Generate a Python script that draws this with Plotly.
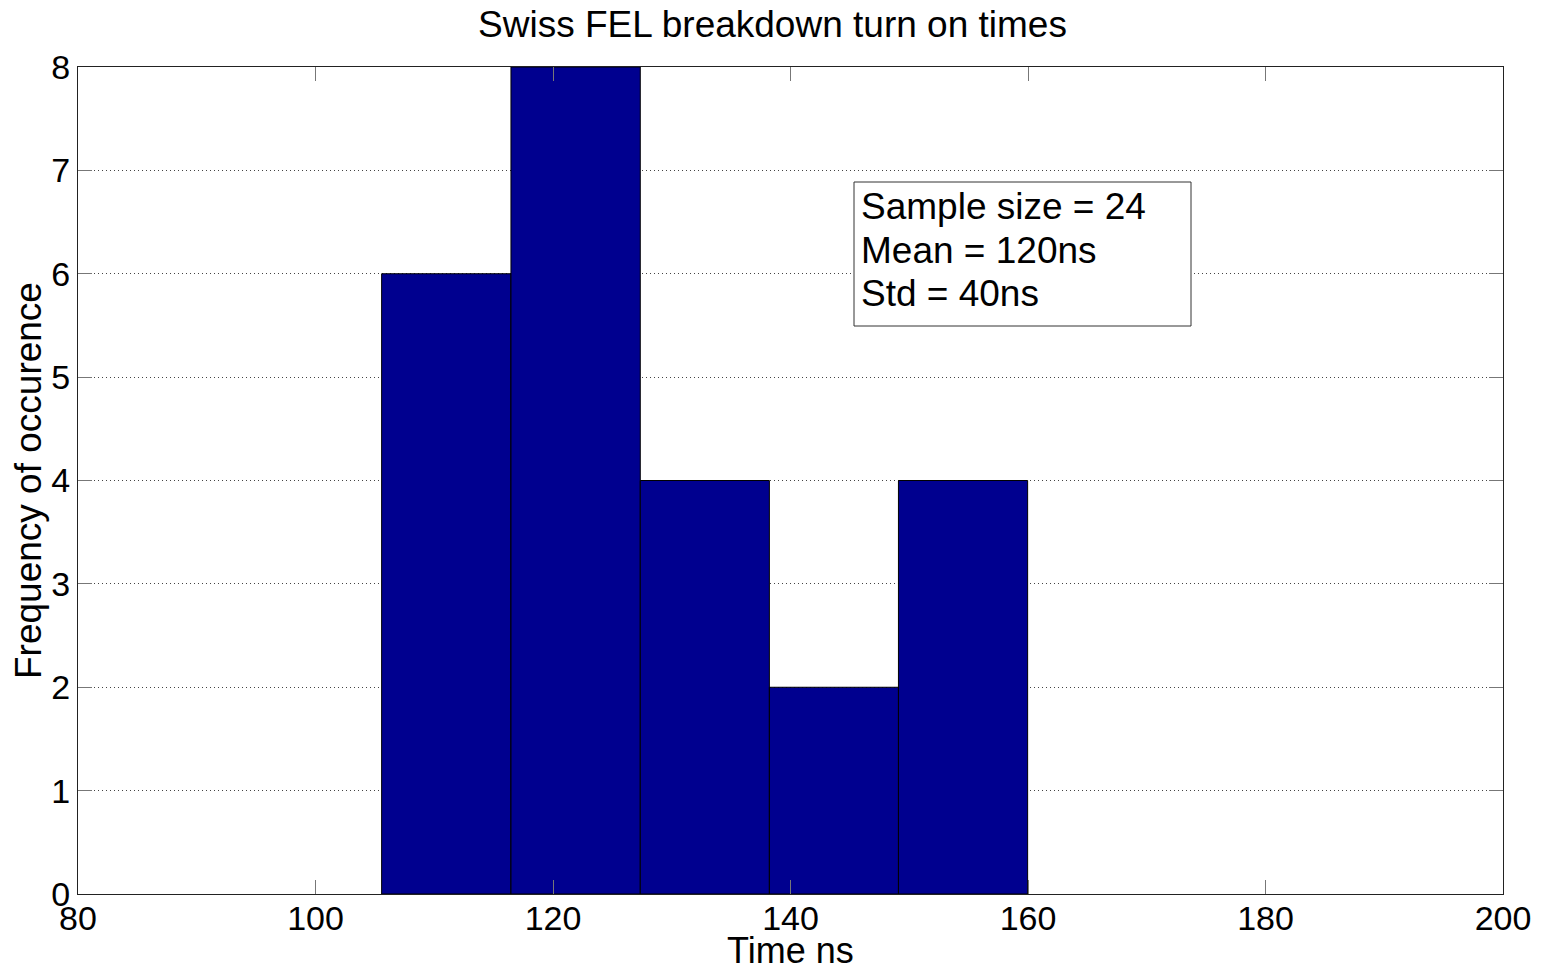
import plotly.graph_objects as go

# Histogram of breakdown turn-on times (ns)
bin_edges = [105.57, 116.46, 127.35, 138.22, 149.09, 159.97]
counts = [6, 8, 4, 2, 4]
x_ticks = [80, 100, 120, 140, 160, 180, 200]
y_ticks = [0, 1, 2, 3, 4, 5, 6, 7, 8]
stats_lines = ["Sample size = 24", "Mean = 120ns", "Std = 40ns"]

centers = [(a + b) / 2 for a, b in zip(bin_edges[:-1], bin_edges[1:])]
widths = [b - a for a, b in zip(bin_edges[:-1], bin_edges[1:])]

FONT = "Liberation Sans, Arial, sans-serif"
W, H = 1545, 970
ML, MR, MT, MB = 78, 42, 67, 76
PW, PH = W - ML - MR, H - MT - MB


def px_x(p):
    return (p - ML) / PW


def px_y(p):
    return (H - MB - p) / PH


fig = go.Figure(
    go.Bar(
        x=centers,
        y=counts,
        width=widths,
        marker=dict(color="rgb(0,0,143)", line=dict(color="black", width=1)),
        hoverinfo="x+y",
    )
)

fig.update_layout(
    width=W,
    height=H,
    margin=dict(l=ML, r=MR, t=MT, b=MB),
    paper_bgcolor="white",
    plot_bgcolor="white",
    showlegend=False,
    font=dict(family=FONT, size=34, color="black"),
    title=dict(
        text="Swiss FEL breakdown turn on times",
        x=0.5,
        xanchor="center",
        y=0.975,
        yanchor="middle",
        font=dict(family=FONT, size=37, color="black"),
    ),
)

axis_common = dict(
    ticks="inside",
    ticklen=14,
    tickcolor="#777",
    showline=True,
    linecolor="#222",
    linewidth=1,
    mirror="ticks",
    zeroline=False,
    automargin=False,
    tickfont=dict(size=34),
)

fig.update_xaxes(
    range=[80, 200],
    tickvals=x_ticks,
    ticktext=[str(v) for v in x_ticks],
    showgrid=False,
    ticklabelstandoff=-6,
    **axis_common,
)

fig.update_yaxes(
    range=[0, 8],
    tickvals=y_ticks,
    ticktext=[str(v) for v in y_ticks],
    showgrid=True,
    gridcolor="#444",
    griddash="1px,3px",
    gridwidth=1,
    **axis_common,
)

# Axis titles
fig.add_annotation(
    xref="paper", yref="paper", x=0.5, y=px_y(950),
    xanchor="center", yanchor="middle", text="Time ns", showarrow=False,
    font=dict(family=FONT, size=36, color="black"),
)
fig.add_annotation(
    xref="paper", yref="paper", x=px_x(28), y=px_y(481),
    xanchor="center", yanchor="middle", text="Frequency of occurence",
    textangle=-90, showarrow=False,
    font=dict(family=FONT, size=37, color="black"),
)

# Statistics box
fig.add_shape(
    type="rect", xref="paper", yref="paper",
    x0=px_x(854), x1=px_x(1191), y0=px_y(326), y1=px_y(182),
    line=dict(color="#333", width=1), fillcolor="white", layer="above",
)
for i, line in enumerate(stats_lines):
    fig.add_annotation(
        xref="paper", yref="paper", x=px_x(859), y=px_y(207 + 43 * i),
        xanchor="left", yanchor="middle", text=line, showarrow=False,
        font=dict(family=FONT, size=37, color="black"),
    )

fig.write_html("out.html")
